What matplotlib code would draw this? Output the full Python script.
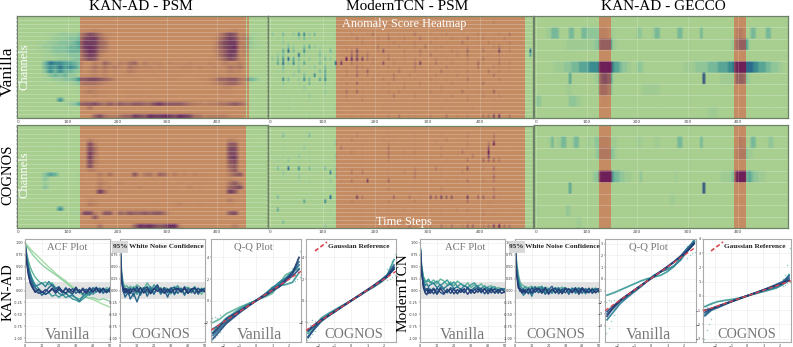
import matplotlib
matplotlib.use("Agg")
import matplotlib.pyplot as plt
import numpy as np
from matplotlib.colors import LinearSegmentedColormap, PowerNorm
from matplotlib.lines import Line2D
from matplotlib.patches import Rectangle

W, H = 793, 347
SERIF = ["Liberation Serif", "DejaVu Serif"]

# anomaly windows (time steps)
win_kan_van = [(125, 457), (460, 464)]
win_kan_cog = [(125, 457)]
win_tcn = [(125, 484)]
win_gecco = [(124, 147), (392, 414)]

# heatmap scores, one digit per 10 time steps, one string per channel
kan_van = [
    "", "", "",
    "00000 00000 00011 21000 00000 00000 00000 00000 00121 00000",
    "00000 01122 22357 64210 00000 00000 00000 00000 35762 21100",
    "00000 01222 33478 85310 00000 00000 00000 00001 46873 32100",
    "00001 12233 34588 85410 00000 00000 00000 00001 57883 22100",
    "00001 22333 44589 85410 00000 00000 00000 00002 57893 32110",
    "00001 12333 44479 84310 00000 00000 00000 00002 46882 21000",
    "00000 11222 33368 73100 00000 00000 00000 00001 46872 21000",
    "00000 11122 23357 62100 00000 00000 00000 00001 35762 10000",
    "00000 47665 54300 31530 32450 31220 21112 11021 13223 10000",
    "00000 46575 65302 42423 21432 22121 11222 12112 12434 10000",
    "00000 36464 43202 31312 11321 11111 11111 01011 11322 00000",
    "00000 13434 22001 21201 01110 00100 01000 00001 11211 00000",
    "00000 11223 34667 76542 11111 00011 11000 01123 55664 34310",
    "00000 00011 12344 43210 00000 00000 00000 00012 34553 10000",
    "00000 00000 00112 21000 00000 00000 00000 00000 12210 00000",
    "00000 00000 00123 21100 00100 00000 00000 00000 11100 00000",
    "00000 00000 00011 21100 00111 01000 10000 00000 01100 00000",
    "00000 00060 00000 00000 00000 00000 00000 00000 00000 00000",
    "00000 00011 23566 75464 65566 55786 66654 33233 44565 31000",
    "00000 00000 00004 00000 00000 00000 00000 00000 00000 00000",
    "",
    "00000 00000 00000 57433 45587 69889 87987 44233 33211 00000",
]
kan_cog = [
    "", "", "",
    "00000 00000 00003 10000 00000 00000 00000 00000 00320 00000",
    "00000 00000 00007 30000 00000 00000 00000 00000 00660 00000",
    "00000 00000 00007 40000 00000 00000 00000 00000 00770 00000",
    "00000 00000 00008 40000 00000 00000 00000 00000 00770 00000",
    "00000 00000 00008 30000 00000 00000 00000 00000 00780 00000",
    "00000 00000 00007 30000 00000 00000 00000 00000 00670 00000",
    "00000 00000 00007 20000 00000 00000 00000 00000 00560 00000",
    "00000 00000 00003 20000 00000 00000 00000 00000 00460 00000",
    "00000 35400 00100 03040 01060 34054 03020 20100 00356 00000",
    "00000 30000 00000 02000 00010 00100 00000 00000 00210 00000",
    "00000 20000 00100 03200 21010 10101 00100 10100 00463 00000",
    "00000 30000 00000 03120 10102 01011 01002 01000 01567 00000",
    "00000 00000 00000 08400 10000 00000 00000 00000 00860 00000",
    "",
    "00000 00000 00002 10000 00000 00000 00000 00000 00310 00000",
    "00000 00000 00003 20000 00000 00100 01200 01000 00100 00000",
    "00000 00060 00000 00000 00000 00000 00000 00000 00000 00000",
    "00000 00000 01177 30660 54655 65664 10000 00000 00670 00000",
    "00000 00000 00000 60000 00000 00000 00000 00000 00000 00000",
    "",
    "00000 00000 00000 04000 00059 89767 99200 00000 00030 00000",
]
tcn_van = [
    "00000 00000 00000 00000 00000 00000 00000 00000 00000 00000",
    "00000 00000 00000 00000 00000 00000 00000 00000 00200 00000",
    "",
    "00000 00000 00000 00000 00000 00100 00000 00000 00000 00000",
    "20302 55230 00100 20013 00201 00300 10120 01002 10020 30000",
    "01100 23100 00001 03100 20301 20030 01002 10300 20102 00100",
    "00210 00000 10010 00201 00120 10200 20010 03001 02100 20100",
    "00132 03421 00001 01000 30102 00203 01200 00201 10230 10010",
    "00463 05102 03012 36010 25100 20130 01002 10400 30060 20006",
    "02300 62003 10000 45130 01200 10020 30100 20300 01020 00104",
    "23564 31202 32008 77632 00300 10200 02010 00200 30120 00000",
    "04625 24003 10670 32102 05020 10360 03102 00204 10030 20000",
    "00301 20120 31201 03200 10201 00300 10020 10103 00210 10000",
    "01200 31003 40102 03040 00103 00200 10300 00201 03020 10000",
    "00102 03050 40002 04020 10030 02001 02010 20100 00300 00000",
    "01530 25304 50010 10102 02030 10100 20010 00300 10020 00000",
    "00200 10300 20102 04010 00200 10020 01002 00100 30000 00000",
    "00100 02000 10010 00100 01000 20010 00200 00100 00100 00000",
    "00000 01000 20003 04100 00202 00100 20100 03001 10400 00000",
    "00100 00200 10002 00100 10030 00200 01002 00100 20020 00000",
    "00010 00100 00001 00200 00010 00100 00010 00200 00100 00000",
    "00000 00000 00000 00000 00000 00000 00000 00000 00000 00000",
    "00010 00000 00100 00000 01000 00100 00100 00010 00100 00000",
    "",
    "00000 00100 00000 10100 00203 01100 20030 10200 33670 30000",
]
tcn_cog = [
    "",
    "00000 00000 00000 00000 00000 00000 00000 00000 00000 00000",
    "00300 00300 00000 02000 00100 00100 00100 00200 00300 00000",
    "00000 00000 00100 20000 01010 00100 00020 00100 00300 00000",
    "00000 00000 00200 00100 00200 00100 01000 00200 03800 00000",
    "00100 02000 00030 00100 00300 00100 00200 00100 05000 00000",
    "00000 00100 00000 20000 00300 10200 00100 03000 08000 00000",
    "00100 20000 00200 00100 00300 00100 00200 10030 06000 00000",
    "01020 10100 00100 00100 00200 00100 10010 00300 44430 00000",
    "",
    "03060 50310 30200 10100 00100 00200 03100 00500 20400 00000",
    "00200 10000 05100 30300 00100 20300 00100 02100 00200 00000",
    "00100 20000 00200 01000 00100 00300 00100 10100 00400 00000",
    "00000 10100 02010 30060 00400 00100 10010 10300 20300 00000",
    "",
    "00000 00000 00100 01000 00200 00100 00200 00100 00300 00000",
    "00000 00000 00000 00000 00000 00000 00100 00000 00200 00000",
    "03000 00000 06000 06300 10040 03010 54645 10604 40410 00000",
    "00000 04000 50000 20000 00200 00200 00000 00300 01000 00000",
    "",
    "04000 00000 00000 00100 10100 10100 10100 20200 10000 00000",
    "00000 00000 01000 00000 00100 00000 00100 00000 20100 00000",
    "00000 00000 00000 00000 00000 00000 00000 00000 00000 00000",
    "00300 00000 00100 00100 00100 00000 00000 00100 10000 00000",
    "00000 00000 20000 00100 10201 03100 20303 02440 23683 30000",
]

# gecco scores, one digit per 5 time steps
gec_van = [
    "",
    "00001 13330 00033 00033 22222 22211 10000 00000 22000 01330 00000 03300 00000 30000 00000 00002 32100 33000 03300 00000",
    "00000 00000 00111 11111 11122 55555 11000 00000 00000 00000 00000 00000 00000 00000 00000 00124 55541 00000 00000 00000",
    "",
    "00000 00111 12223 33444 45555 99999 54432 21100 22100 00000 00000 00011 11122 22233 33444 45569 99966 65544 43322 21100",
    "00000 00000 00040 00000 00011 56655 10000 00000 00000 00000 00000 00000 00000 07000 00011 11115 55421 00000 00000 00000",
    "00000 00000 00110 00000 00000 44433 00000 00000 00111 11110 00000 00000 00000 00000 00000 00000 00000 00000 00000 00000",
    "22000 00000 00022 21100 00000 01100 00000 00000 00000 00000 00000 00000 00000 00000 00000 00000 00000 00000 00000 00000",
    "00000 00000 00000 00000 00000 00000 00000 00000 00000 00000 00000 00000 00000 00011 11000 00000 00000 00000 00000 00000",
]
gec_cog = [
    "",
    "00000 13011 33001 33000 11022 22221 11000 00000 11000 00110 00000 03300 00000 30000 00000 00000 32200 33000 00220 00000",
    "00000 00000 00000 00000 00012 33333 21000 00000 00000 00000 00000 00000 00000 00000 00000 00012 33321 10000 00000 00000",
    "",
    "00000 00000 00000 00000 00122 99999 43322 11100 02000 00000 00000 10000 00000 00000 00011 11239 99934 32211 10000 00000",
    "00000 00000 00040 00000 00000 00000 00000 00000 00000 00000 00000 00000 00000 07000 00000 00000 00000 00000 00000 00000",
    "00000 00000 00000 00000 00000 00000 00000 00000 00000 00000 00011 00000 00000 00000 00000 00000 00000 00000 00000 00000",
    "10000 00000 00210 00000 00000 00000 00000 00000 00000 00000 00000 00000 00000 00000 00000 00000 00000 00000 00000 00000",
    "00000 00000 00000 01100 00000 00000 00000 00000 00000 00000 00000 00000 00000 00000 00000 00000 00000 00000 00000 00000",
]

psm_ticks = [0, 100, 200, 300, 400]

# acf curves in hundredths, light to dark
acf_lags = [0, 1, 2, 3, 4, 5, 6, 8, 10, 12, 14, 16, 18, 20, 22, 24, 26, 28, 30, 32, 34, 36, 38, 40, 42, 44, 46, 48, 50]
acf_kan_van = [
    [100, 96, 92, 88, 84, 80, 77, 70, 63, 56, 49, 43, 36, 30, 25, 20, 14, 8, 3, -2, -8, -13, -17, -19, -22, -26, -29, -32, -35],
    [100, 94, 88, 83, 78, 73, 69, 61, 54, 48, 43, 38, 33, 28, 22, 17, 11, 5, 0, -5, -10, -14, -16, -15, -18, -20, -17, -20, -22],
    [100, 78, 62, 50, 41, 34, 28, 20, 14, 18, 12, 16, 6, 2, -3, -8, -2, -12, -15, -18, -14, -8, -2, 3, -2, 5, -1, 6, 2],
    [100, 72, 52, 38, 27, 19, 12, 4, -3, -8, -4, -12, -9, -14, -8, -15, -11, -18, -20, -24, -18, -12, -5, -8, -2, 4, -3, 2, -4],
    [100, 70, 48, 34, 24, 15, 9, 12, 16, 8, 19, 10, 2, -6, -10, -5, -13, -9, -16, -22, -12, -6, -10, 2, 7, -3, 4, -5, 3],
    [100, 65, 42, 28, 18, 10, 6, -2, -10, -3, 6, 12, 4, 8, -4, 6, -3, 4, -6, 2, -8, 3, -5, 6, -3, 5, -6, 2, -2],
    [100, 60, 36, 20, 12, 5, 0, -6, -2, -8, -4, 3, -6, 2, -5, 4, -2, -7, 3, -4, 5, -3, 6, -2, 4, -5, 3, -4, 6],
    [100, 58, 32, 16, 8, 2, -4, 3, -5, 2, -3, 5, -2, 6, -1, -6, 4, -3, 7, -5, 2, -6, 3, -4, 6, -2, 5, -3, 1],
]
acf_kan_cog = [
    [100, 38, 14, 8, 10, 4, 9, 3, 12, 6, 4, 16, 5, 2, 7, -3, 6, 4, -2, 8, 3, -4, 5, 7, 2, -3, 4, -8, 3],
    [100, 30, 10, 2, -4, 6, -6, 8, -8, 3, -5, 9, -3, 12, 2, 6, -4, 3, -7, 4, 10, -2, 5, -6, 2, 8, -3, 5, -2],
    [100, 26, 4, -6, 3, -9, 2, -12, 5, -10, 3, -4, 8, -6, 4, -8, 3, -5, 6, -9, 2, 5, -7, 3, -5, 4, -6, 2, 5],
    [100, 22, -2, -14, -8, -3, -18, -6, -24, -4, 6, -12, 3, -8, 10, -5, 2, -14, 4, 7, -6, 3, -10, 5, -3, 6, -8, 3, -2],
    [100, 20, 3, -5, 4, -7, 5, -3, 8, -6, 4, 7, -5, 3, 12, -4, 6, -3, 5, -6, 4, -2, 8, -5, 3, -7, 5, -2, 4],
    [100, 18, -3, 5, -4, 2, -6, 4, -3, 6, -5, 3, -7, 5, -2, 4, -6, 3, -4, 2, 5, -3, 4, -6, 3, 5, -4, 2, -3],
]
acf_tcn_van = [
    [100, 52, 30, 22, 18, 20, 16, 22, 14, 24, 20, 12, 18, 10, 20, 14, 8, 16, 6, 12, 8, 14, 4, 8, 10, 2, 6, 4, 2],
    [100, 48, 26, 16, 20, 24, 18, 14, 20, 10, 16, 22, 12, 18, 8, 14, 10, 6, 12, 16, 6, 4, 10, 2, 6, 8, 0, 4, 2],
    [100, 44, 20, 10, 14, 8, 12, 16, 6, 12, 4, 10, 14, 4, 8, 2, 10, 6, 0, 6, 10, -2, 4, 6, -1, 3, -3, 2, 4],
    [100, 40, 14, 4, 0, 6, -2, 5, -4, 7, 2, -5, 6, 1, -6, 4, -3, 5, -4, 2, 6, -5, 3, -2, 5, -6, 2, 4, -3],
    [100, 38, 10, -3, 4, -6, 3, -7, 5, -4, -8, 3, -6, 4, -7, 2, -5, 6, -6, 3, -4, 5, -7, 2, -5, 4, -6, 3, -4],
    [100, 36, 6, -5, -9, 2, -6, 3, -8, 4, -5, -2, 3, -7, 2, -4, 4, -8, 2, -6, 3, -3, 4, -7, 3, -5, 2, -6, -2],
]
acf_tcn_cog = [
    [100, 60, 34, 18, 12, 10, 8, 6, 9, 5, 8, 3, 7, 4, -2, 6, 3, 7, 2, -3, 5, 2, 6, -2, 4, -3, 5, 2, 3],
    [100, 52, 26, 12, 6, 3, 8, -4, 6, -3, 5, 9, -2, 4, -6, 5, -3, 3, 6, -4, 2, 5, -6, 3, -2, 4, -5, 3, -2],
    [100, 44, 18, 6, -3, -10, -6, 4, -12, 5, -4, 7, -8, 3, -5, 2, 6, -7, 3, -4, 5, -6, 2, 4, -7, 3, -2, 5, -4],
    [100, 38, 12, 2, -4, 3, -6, 5, -3, 8, -5, 3, -7, 2, 9, -6, 4, -3, 6, -8, 3, -2, 5, -6, 4, -5, 3, -4, 2],
    [100, 34, 8, -2, 3, -5, 2, -7, 6, -4, 3, -6, 4, -8, 2, 5, -7, 3, -5, 4, -3, 6, -8, 2, -4, 5, -6, 2, 4],
    [100, 32, 5, 3, -5, 2, -4, 3, -6, 2, 5, -3, 6, -5, 3, -4, 2, -6, 4, 2, -5, 3, -3, 6, -2, -4, 3, -5, 2],
]

# q-q curves, sample quantiles at each theoretical quantile, light to dark
qq_theory = [-2.6, -2.2, -1.8, -1.4, -1.0, -0.6, -0.2, 0.2, 0.6, 1.0, 1.4, 1.8, 2.2, 2.6]
qq_kan_van = [
    [-2.0, -1.7, -1.2, -0.9, -0.6, -0.35, -0.1, 0.15, 0.4, 0.7, 1.6, 2.4, 2.7, 3.0],
    [-2.9, -2.2, -1.6, -1.2, -0.75, -0.4, -0.1, 0.2, 0.7, 1.25, 1.4, 1.5, 1.7, 2.6],
    [-3.2, -2.6, -2.0, -1.4, -0.9, -0.5, -0.2, 0.2, 0.6, 1.2, 1.7, 2.1, 2.7, 3.6],
    [-2.6, -2.2, -1.9, -1.5, -1.05, -0.6, -0.2, 0.25, 0.65, 1.05, 1.5, 2.0, 2.6, 3.3],
    [-3.5, -2.8, -2.1, -1.6, -1.1, -0.65, -0.2, 0.2, 0.5, 0.9, 1.3, 1.8, 2.3, 2.9],
    [-3.0, -2.4, -1.7, -1.3, -0.95, -0.6, -0.2, 0.2, 0.6, 1.0, 1.3, 1.9, 2.5, 4.0],
]
qq_kan_cog = [
    [-3.0, -2.3, -1.6, -1.2, -0.85, -0.5, -0.15, 0.2, 0.6, 1.0, 1.35, 1.8, 2.4, 3.8],
    [-3.3, -2.6, -1.9, -1.45, -1.05, -0.62, -0.2, 0.2, 0.6, 0.95, 1.3, 1.7, 2.2, 3.0],
    [-2.8, -2.3, -1.8, -1.35, -0.95, -0.6, -0.2, 0.2, 0.55, 1.0, 1.45, 1.9, 2.4, 3.3],
    [-3.4, -2.5, -1.85, -1.4, -1.0, -0.6, -0.2, 0.2, 0.6, 1.0, 1.4, 1.85, 2.3, 2.9],
    [-2.7, -2.2, -1.75, -1.4, -1.0, -0.58, -0.2, 0.22, 0.62, 1.02, 1.42, 1.8, 2.25, 3.1],
]
qq_tcn_van = [
    [-1.4, -1.2, -0.95, -0.7, -0.45, -0.2, 0.0, 0.15, 0.3, 0.6, 1.05, 1.7, 2.6, 3.2],
    [-3.5, -2.8, -2.1, -1.6, -1.15, -0.7, -0.2, 0.3, 0.6, 0.8, 1.1, 1.6, 2.4, 3.3],
    [-3.0, -2.5, -1.9, -1.45, -1.02, -0.62, -0.2, 0.2, 0.62, 1.02, 1.45, 1.95, 2.6, 3.1],
    [-2.8, -2.3, -1.8, -1.4, -1.0, -0.6, -0.2, 0.2, 0.6, 1.0, 1.45, 1.9, 2.4, 3.0],
    [-3.2, -2.4, -1.85, -1.42, -1.02, -0.6, -0.2, 0.2, 0.6, 1.02, 1.42, 1.85, 2.35, 3.0],
]
qq_tcn_cog = [
    [-0.75, -0.55, -0.4, -0.32, -0.26, -0.18, -0.06, 0.06, 0.18, 0.3, 0.42, 0.55, 0.8, 1.5],
    [-1.3, -0.95, -0.75, -0.58, -0.42, -0.26, -0.08, 0.08, 0.22, 0.36, 0.48, 0.6, 0.8, 1.1],
    [-1.4, -1.0, -0.82, -0.62, -0.42, -0.25, -0.08, 0.08, 0.25, 0.42, 0.6, 0.8, 1.0, 1.4],
    [-1.15, -0.92, -0.75, -0.58, -0.4, -0.24, -0.08, 0.08, 0.24, 0.4, 0.58, 0.74, 0.92, 1.25],
    [-1.0, -0.88, -0.72, -0.56, -0.4, -0.24, -0.08, 0.08, 0.24, 0.4, 0.56, 0.72, 0.9, 1.1],
]

# stray tail points of the q-q panels (theoretical, sample)
tail_x = [-2.65, -2.65, -2.5, -2.5, -2.35, -2.35, -2.2, -2.2, 2.2, 2.2, 2.35, 2.35, 2.5, 2.5, 2.65, 2.65]
tail_kan_van = [-1.6, -3.6, -1.5, -3.3, -1.6, -3.2, -1.3, -2.9, 1.7, 3.0, 1.8, 3.4, 2.0, 3.9, 2.2, 4.6]
tail_kan_cog = [-2.0, -3.6, -2.2, -3.3, -1.8, -3.1, -1.9, -2.8, 1.9, 2.9, 2.0, 3.2, 2.2, 3.7, 2.4, 4.3]
tail_tcn_van = [-2.0, -4.6, -1.8, -4.2, -1.9, -3.6, -1.8, -3.1, 1.8, 2.8, 2.0, 3.0, 2.2, 3.1, 2.3, 3.2]
tail_tcn_cog = [-0.7, -3.0, -0.8, -2.4, -0.6, -2.0, -0.6, -1.6, 0.7, 1.2, 0.8, 1.5, 0.9, 2.2, 1.0, 3.4]

normal_cmap = LinearSegmentedColormap.from_list(
    "normal", ["#a8cf90", "#8cc49a", "#62ad97", "#3d8f90", "#2b6b8c", "#28457c", "#5a2a6a", "#6e1f58"])
anom_cmap = LinearSegmentedColormap.from_list(
    "anom", ["#c58c63", "#b98060", "#a8705f", "#96605f", "#84505f", "#74405f", "#6e3060", "#6e1f58"])
line_colors = ["#a6dba5", "#8fd0a4", "#5fb49c", "#3b9a98", "#2c7f94", "#27648c", "#254c80", "#243b74"]

fig = plt.figure(figsize=(W / 100, H / 100), dpi=100)


def box(x0, y0, x1, y1):
    return fig.add_axes([x0 / W, 1 - y1 / H, (x1 - x0) / W, (y1 - y0) / H])


def label(x, y, s, size, color="black", rot=0, weight="normal"):
    fig.text(x / W, 1 - y / H, s, fontsize=size, color=color, rotation=rot, weight=weight,
             ha="center", va="center", family=SERIF, zorder=20)


def parse(rows, ncol):
    rows = [r.replace(" ", "").ljust(ncol, "0") for r in rows]
    return np.array([[int(c) for c in r] for r in rows], dtype=float)


def heat(rect, rows, windows, ncol, xlim, vmax_n=11, vmax_a=10, thin=False):
    ax = box(*rect)
    scores = parse(rows, ncol)
    if thin:
        # single time step streaks, not full bins
        wide = np.zeros((scores.shape[0], ncol * 3))
        wide[:, 1::3] = scores
        scores = wide
    n = len(rows)
    # repeat rows so the smoothing only runs along time
    scores = np.repeat(scores, 8, axis=0)
    ext = (0, 500, n, 0)
    ax.set_facecolor("#a8cf90")
    ax.imshow(scores, cmap=normal_cmap, norm=PowerNorm(1.4, vmin=0, vmax=vmax_n), extent=ext,
              aspect="auto", interpolation="bilinear")
    for a, b in windows:
        im = ax.imshow(scores, cmap=anom_cmap, norm=PowerNorm(1.4, vmin=0, vmax=vmax_a), extent=ext,
                       aspect="auto", interpolation="bilinear")
        im.set_clip_path(Rectangle((a, 0), b - a, n, transform=ax.transData))
    for i in range(1, n):
        ax.axhline(i, color="white", alpha=0.25, lw=0.6)
    for t in psm_ticks:
        ax.axvline(t, color="white", alpha=0.2, lw=0.6)
    ax.set_xlim(*xlim)
    ax.set_ylim(n, 0)
    ax.set_yticks(np.arange(n) + 0.5)
    ax.set_yticklabels([])
    ax.set_xticks(psm_ticks)
    ax.tick_params(axis="both", length=1, width=0.3, labelsize=3.2, pad=0.6, colors="#444444")
    for s in ax.spines.values():
        s.set_color("#6f8068")
        s.set_linewidth(0.9)


def base_small(rect):
    ax = box(*rect)
    ax.grid(True, color="#eeeeee", lw=0.5)
    ax.set_axisbelow(True)
    ax.tick_params(axis="both", length=1, width=0.3, labelsize=2.4, pad=0.4, colors="#333333")
    for s in ax.spines.values():
        s.set_color("#aaaaaa")
        s.set_linewidth(0.8)
    return ax


def acf(rect, curves):
    ax = base_small(rect)
    ax.axhspan(-0.18, 0.18, color="#dddddd", alpha=0.8, lw=0)
    k = len(line_colors) - len(curves)
    for i, c in enumerate(curves):
        ax.plot(acf_lags, np.array(c) / 100, color=line_colors[i + k], lw=1.0)
    ax.set_xlim(0, 50)
    ax.set_ylim(-1.08, 1.08)
    ax.set_xticks([0, 10, 20, 30, 40, 50])
    ax.set_yticks([-1, -0.75, -0.5, -0.25, 0, 0.25, 0.5, 0.75, 1])
    ax.set_yticklabels(["-1.00", "-0.75", "-0.50", "-0.25", "0.00", "0.25", "0.50", "0.75", "1.00"])


def qq(rect, curves, tails, ylim, yticks, slope):
    ax = base_small(rect)
    ax.scatter(tail_x, tails, s=1.2, color="#8fc8c0", lw=0, alpha=0.9)
    k = len(line_colors) - len(curves)
    for i, c in enumerate(curves):
        ax.plot(qq_theory, c, color=line_colors[i + k], lw=1.3, alpha=0.9)
    ref = np.array([-2.72, 2.72])
    ax.plot(ref, ref * slope, color="#d8454f", lw=1.0, ls=(0, (3, 2)), zorder=5)
    ax.set_xlim(-2.72, 2.72)
    ax.set_ylim(*ylim)
    ax.set_xticks([-2, -1, 0, 1, 2])
    ax.set_yticks(yticks)


# heatmaps
heat((17, 16, 268, 118), kan_van, win_kan_van, 50, (-2, 503))
heat((17, 125, 268, 228), kan_cog, win_kan_cog, 50, (-2, 503))
heat((268, 16, 533, 118), tcn_van, win_tcn, 50, (-4, 501), vmax_n=9, vmax_a=8, thin=True)
heat((268, 126, 533, 228), tcn_cog, win_tcn, 50, (-4, 501), vmax_n=9, vmax_a=8, thin=True)
heat((534, 16, 788, 118), gec_van, win_gecco, 100, (-4, 499), vmax_n=9, vmax_a=9)
heat((534, 125, 788, 228), gec_cog, win_gecco, 100, (-4, 499), vmax_n=9, vmax_a=9)

# bottom strip
acf((25, 239, 110, 342), acf_kan_van)
acf((120, 239, 205, 342), acf_kan_cog)
qq((211, 239, 301, 342), qq_kan_van, tail_kan_van, (-3.8, 5.7), [-2, 0, 2, 4], 1)
qq((306, 239, 396, 342), qq_kan_cog, tail_kan_cog, (-3.8, 5.7), [-2, 0, 2, 4], 1)
acf((420, 239, 505, 342), acf_tcn_van)
acf((515, 239, 599, 342), acf_tcn_cog)
qq((605, 239, 696, 342), qq_tcn_van, tail_tcn_van, (-5.4, 3.4), [-4, -3, -2, -1, 0, 1, 2, 3], 1)
qq((703, 239, 791, 342), qq_tcn_cog, tail_tcn_cog, (-3.24, 4.0), [-3, -2, -1, 0, 1, 2, 3, 4], 0.39)

# titles and side labels
label(141, 7, "KAN-AD - PSM", 11)
label(407, 7, "ModernTCN - PSM", 11)
label(663, 7, "KAN-AD - GECCO", 11)
label(8, 71, "Vanilla", 12.5, rot=90)
label(8, 175, "COGNOS", 10.5, rot=90)
label(8, 292, "KAN-AD", 10.5, rot=90)
label(403, 293, "ModernTCN", 11, rot=90)
label(24, 67, "Channels", 9, "white", rot=90)
label(24, 175, "Channels", 9, "white", rot=90)
label(404, 24, "Anomaly Score Heatmap", 8.8, "white")
label(404, 222, "Time Steps", 8.9, "white")

grey = "#777777"
for x, y, s in [(67, 247, "ACF Plot"), (465, 247, "ACF Plot"), (253, 247, "Q-Q Plot"), (648, 247, "Q-Q Plot")]:
    label(x, y, s, 7.7, grey)
for x, s in [(67, "Vanilla"), (259, "Vanilla"), (462, "Vanilla"), (648, "Vanilla")]:
    label(x, 335, s, 11.5, grey)
for x, s in [(161, "COGNOS"), (354, "COGNOS"), (556, "COGNOS"), (747, "COGNOS")]:
    label(x, 335, s, 10.2, grey)

# legend bits
for x0, x1 in [(112, 128), (509, 525)]:
    fig.add_artist(Rectangle((x0 / W, 1 - 253 / H), (x1 - x0) / W, 12 / H, transform=fig.transFigure,
                             color="#d9d9d9", lw=0, zorder=15))
label(158, 247, "95% White Noise Confidence", 5.2, "#222222", weight="bold")
label(554, 247, "95% White Noise Confidence", 5.2, "#222222", weight="bold")
for x0, x1, xt, yb, yt in [(315, 327, 359, 251, 242), (711, 723, 755, 251, 242)]:
    fig.add_artist(Line2D([x0 / W, x1 / W], [1 - yb / H, 1 - yt / H], transform=fig.transFigure,
                          color="#d8454f", lw=1.2, ls=(0, (2.5, 1.5)), zorder=15))
    label(xt, 247, "Gaussian Reference", 5.2, "#222222", weight="bold")

fig.savefig("out.png", dpi=100)
